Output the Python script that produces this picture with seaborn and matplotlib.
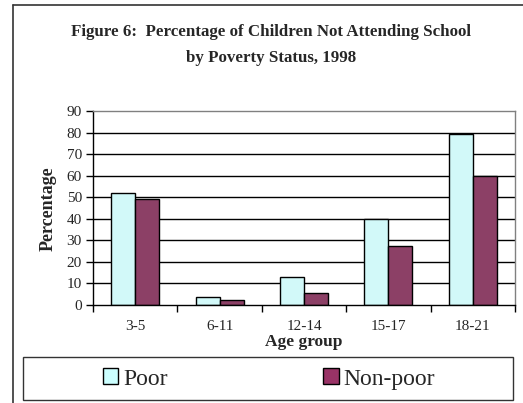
import numpy as np
import pandas as pd
import matplotlib
matplotlib.use("Agg")
import matplotlib.pyplot as plt
import seaborn as sns
from matplotlib.lines import Line2D
from matplotlib.patches import Patch, Rectangle

# ---------------------------------------------------------------- data
age_groups = ["3-5", "6-11", "12-14", "15-17", "18-21"]
poor = [52, 3.5, 13, 40, 79.3]
non_poor = [49.2, 2.2, 5.7, 27.4, 60]
series = ["Poor", "Non-poor"]
colors = ["#CCFFFF", "#993366"]

df = pd.DataFrame({
    "Age group": age_groups * 2,
    "Percentage": poor + non_poor,
    "Status": [series[0]] * len(poor) + [series[1]] * len(non_poor),
})

sns.set_theme(style="white")
plt.rcParams["font.family"] = ["Liberation Serif", "DejaVu Serif"]

W, H = 523, 403
fig = plt.figure(figsize=(W / 100, H / 100), dpi=100)
ax = fig.add_axes([93 / W, (H - 305) / H, 422 / W, 194 / H])

sns.barplot(data=df, x="Age group", y="Percentage", hue="Status",
            palette=colors, edgecolor="black", linewidth=1,
            width=0.57, gap=0, ax=ax, legend=False)

# -------------------------------------------------- axes styling
ax.set_ylim(0, 90)
ax.set_xlim(-0.5, len(age_groups) - 0.5)
ax.set_yticks(np.arange(0, 91, 10))
for y in range(10, 90, 10):
    ax.axhline(y, color="black", lw=1, zorder=0)
ax.tick_params(axis="y", length=5, width=1, color="black", labelsize=11,
               left=True, pad=3)
ax.set_xticks(range(len(age_groups)))
ax.set_xticks(np.arange(-0.5, len(age_groups), 1), minor=True)
ax.tick_params(axis="x", which="major", length=0, labelsize=11, pad=11)
ax.tick_params(axis="x", which="minor", length=5, width=1, color="black",
               bottom=True)
for s in ["top", "right"]:
    ax.spines[s].set_color("#808080")
for s in ["left", "bottom"]:
    ax.spines[s].set_color("black")
for s in ax.spines.values():
    s.set_linewidth(1)
ax.set_xlabel("")
ax.set_ylabel("")

fig.text(48 / W, 1 - 209 / H, "Percentage", rotation=90, ha="center",
         va="center", fontsize=13, fontweight="bold")
fig.text(304 / W, 1 - 342 / H, "Age group", ha="center", va="center",
         fontsize=12.5, fontweight="bold")

fig.text(271 / W, 1 - 32 / H, "Figure 6:  Percentage of Children Not Attending School",
         ha="center", va="center", fontsize=12.2, fontweight="bold")
fig.text(271 / W, 1 - 58 / H, "by Poverty Status, 1998",
         ha="center", va="center", fontsize=12.2, fontweight="bold")

# outer chart frame (cut at right and bottom edges)
fig.add_artist(Line2D([13 / W, 1.0], [1 - 5 / H, 1 - 5 / H], color="#333333", lw=1.2))
fig.add_artist(Line2D([13 / W, 13 / W], [0, 1 - 5 / H], color="#333333", lw=1.2))

# legend box
fig.add_artist(Rectangle((23 / W, 3 / H), 490 / W, 43 / H, transform=fig.transFigure,
                         fill=False, edgecolor="#333333", lw=1))
handles = [Patch(facecolor=c, edgecolor="black", lw=1) for c in colors]
leg = fig.legend(handles, series, ncol=2, loc="center",
                 bbox_to_anchor=(269 / W, 1 - 379 / H),
                 fontsize=17, frameon=False, borderaxespad=0,
                 handlelength=0.65, handleheight=0.65,
                 handletextpad=0.2, columnspacing=6.6, borderpad=0)

fig.savefig("out.png", dpi=100)
